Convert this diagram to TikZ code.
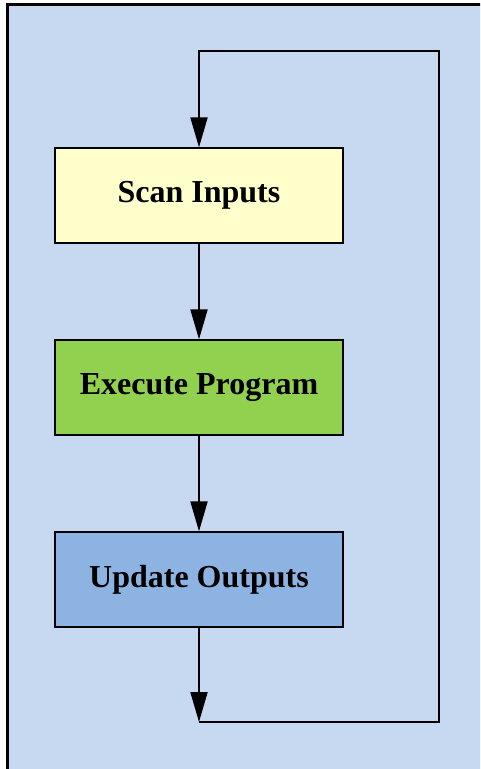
\documentclass[tikz,border=0pt]{standalone}
\usepackage{fontspec}
\setmainfont{Liberation Serif}
\usetikzlibrary{arrows.meta}
\definecolor{bgblue}{HTML}{C6D9F0}
\definecolor{boxyellow}{HTML}{FFFFCC}
\definecolor{boxgreen}{HTML}{92D050}
\definecolor{boxblue}{HTML}{8DB3E2}
\tikzset{
  stagebox/.style={draw=black, line width=1.3pt, minimum width=288pt, minimum height=95pt,
    inner sep=0pt, font=\fontsize{32}{36}\selectfont\bfseries},
  flow/.style={line width=2pt, -{Triangle[length=30pt,width=17pt]}},
  loopline/.style={line width=2pt}
}
\begin{document}
\begin{tikzpicture}[x=1pt,y=-1pt]
\useasboundingbox (0,0) rectangle (480,769);
\clip (0,0) rectangle (480,769);
\draw[fill=bgblue, line width=3pt] (7,4) rectangle (520,820);
\node[stagebox, fill=boxyellow] (scan) at (199,195.5) {Scan Inputs};
\node[stagebox, fill=boxgreen] (exec) at (199,387.5) {Execute Program};
\node[stagebox, fill=boxblue] (upd) at (199,579.5) {Update Outputs};
\coordinate (bot) at (199,722);
\coordinate (br) at (439,722);
\coordinate (tr) at (439,51);
\coordinate (tl) at (199,51);
\draw[flow] (scan.south) -- (exec.north);
\draw[flow] (exec.south) -- (upd.north);
\draw[flow] (upd.south) -- (bot);
\draw[flow] (bot) -- (br) -- (tr) -- (tl) -- (scan.north);
\end{tikzpicture}
\end{document}
